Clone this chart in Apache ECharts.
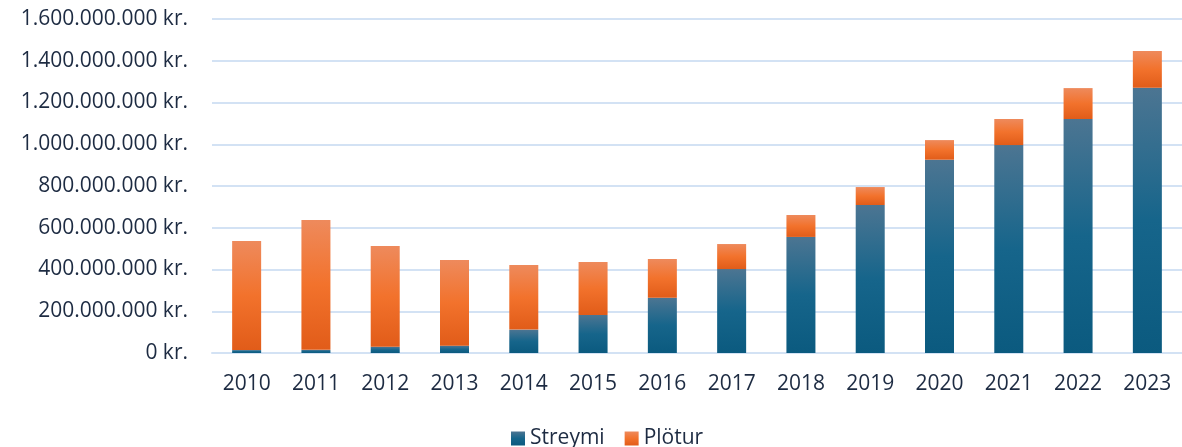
<!DOCTYPE html>
<html>
<head>
    <meta charset="utf-8" />
    <title>Streymi og plötur</title>
    <script src="https://cdn.jsdelivr.net/npm/echarts@6/dist/echarts.min.js"></script>
    <style>
        html, body { margin: 0; padding: 0; background: #fff; }
        #main { width: 1182px; height: 447px; }
    </style>
</head>
<body>
    <div id="main"></div>
    <script type="text/javascript">
        // years on the x axis
        var years = ['2010', '2011', '2012', '2013', '2014', '2015', '2016',
                     '2017', '2018', '2019', '2020', '2021', '2022', '2023'];
        // revenue in kr.
        var streymi = [14e6, 15e6, 30e6, 35e6, 112e6, 182e6, 265e6,
                       402e6, 556e6, 709e6, 926e6, 996e6, 1121e6, 1271e6];
        var plotur = [522e6, 622e6, 482e6, 410e6, 309e6, 254e6, 185e6,
                      120e6, 105e6, 86e6, 94e6, 125e6, 148e6, 176e6];

        var textColor = '#1d2b42';
        var gridColor = '#d3e2f4';
        var fontFamily = '"Open Sans", "Noto Sans", sans-serif';
        var fontSize = 21;

        // icelandic style thousands separator
        const formatKr = (value) => {
            return String(Math.round(value)).replace(/\B(?=(\d{3})+(?!\d))/g, '.') + ' kr.';
        }

        const vGradient = (stops) => {
            return new echarts.graphic.LinearGradient(0, 0, 0, 1, stops.map((c, i) => {
                return { offset: i / (stops.length - 1), color: c };
            }));
        }

        var chart = echarts.init(document.getElementById('main'), null, { renderer: 'canvas' });

        var option = {
            animation: false,
            textStyle: { fontFamily: fontFamily },
            grid: {
                left: 212,
                right: 0,
                top: 19,
                bottom: 94,
                containLabel: false
            },
            legend: {
                data: ['Streymi', 'Plötur'],
                left: 506,
                bottom: -7,
                itemWidth: 14,
                itemHeight: 14,
                itemGap: 20,
                icon: 'rect',
                textStyle: { color: textColor, fontSize: fontSize, fontFamily: fontFamily }
            },
            xAxis: {
                type: 'category',
                data: years,
                axisTick: { show: false },
                axisLine: { lineStyle: { color: gridColor, width: 2 } },
                axisLabel: {
                    color: textColor,
                    fontSize: fontSize,
                    margin: 21,
                    fontFamily: fontFamily
                }
            },
            yAxis: {
                type: 'value',
                min: 0,
                max: 1600000000,
                interval: 200000000,
                axisLine: { show: false },
                axisTick: { show: false },
                splitLine: { lineStyle: { color: gridColor, width: 2 } },
                axisLabel: {
                    color: textColor,
                    fontSize: fontSize,
                    margin: 24,
                    fontFamily: fontFamily,
                    formatter: formatKr
                }
            },
            series: [{
                name: 'Streymi',
                type: 'bar',
                stack: 'total',
                barWidth: 29,
                data: streymi,
                itemStyle: {
                    color: vGradient(['#4c7592', '#16658b', '#0b5a7f'])
                }
            }, {
                name: 'Plötur',
                type: 'bar',
                stack: 'total',
                barWidth: 29,
                data: plotur,
                itemStyle: {
                    color: vGradient(['#ee8a5c', '#f2722c', '#e15c19'])
                }
            }]
        };

        chart.setOption(option);
    </script>
</body>
</html>
